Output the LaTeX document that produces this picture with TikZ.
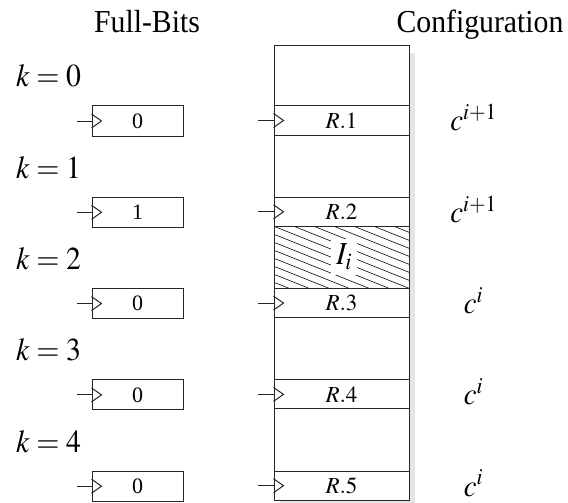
\documentclass[tikz,border=0pt]{standalone}
\usepackage{mathptmx}
\usepackage{fontspec}
\setmainfont{Liberation Serif}
\usetikzlibrary{calc}

\begin{document}
\begin{tikzpicture}[x=1pt, y=-1pt,
    fbbox/.style={draw=black!85, line width=1pt, minimum width=91pt, minimum height=30pt, inner sep=0pt, font=\fontsize{22}{24}\selectfont},
    regbox/.style={draw=black!85, line width=1pt, minimum width=135pt, minimum height=29pt, inner sep=0pt, font=\fontsize{23}{26}\selectfont},
    clk/.style={black!85, line width=1pt},
    title/.style={anchor=base, inner sep=0pt, xscale=0.93, font=\fontsize{32}{36}\selectfont},
    klabel/.style={anchor=base, inner sep=0pt, xscale=0.93, font=\fontsize{32}{36}\selectfont},
    clabel/.style={anchor=base, inner sep=0pt, xscale=0.93, font=\fontsize{31}{36}\selectfont}]

    \useasboundingbox (0,0) rectangle (568,503);

    % --- PARAMETERS ---
    \def\top{106} \def\gap{91.3}
    \def\colL{274} \def\colR{409}

    % --- TITLES ---
    \node[title] (tfull) at (147,33) {Full-Bits};
    \node[title] (tconf) at (480,33) {Configuration};

    % --- MEMORY COLUMN (RIGHT) ---
    \fill[black!10] (\colL+6,53) rectangle (\colR+6,503);
    \filldraw[fill=white, draw=black!85, line width=1pt] (\colL,46) rectangle (\colR,500);

    % hatched block between R.2 and R.3
    \begin{scope}
        \clip (\colL,\top+\gap+29) rectangle (\colR,\top+2*\gap);
        \foreach \y in {-72,-64,...,130}
            \draw[black!85, line width=0.7pt] (\colL,\top+\gap+29+\y) -- ++(135,54);
    \end{scope}
    \node[fill=white, inner sep=5pt, xscale=0.93, font=\fontsize{32}{36}\selectfont] (Ii) at (344,257) {$I_i$};

    % --- ROWS ---
    \foreach \i/\bit/\cfg in {1/0/{c^{i+1}}, 2/1/{c^{i+1}}, 3/0/{c^{i}}, 4/0/{c^{i}}, 5/0/{c^{i}}}{
        \pgfmathsetmacro{\rowY}{\top+(\i-1)*\gap}
        \pgfmathtruncatemacro{\k}{\i-1}

        % left: full bits
        \node[klabel] (k\i) at (48.5,\rowY-19) {$k=\k$};
        \node[fbbox] (fb\i) at (137.5,\rowY+15) {\bit};
        \coordinate (fbin\i) at ($(fb\i.west)+(-15,0)$);
        \draw[clk] (fbin\i) -- (fb\i.west);
        \draw[clk] ($(fb\i.west)+(0,-7)$) -- ++(10,7) -- ++(-10,7);

        % right: registers
        \node[regbox] (r\i) at (341.5,\rowY+14.5) {$R.\i$};
        \coordinate (rin\i) at ($(r\i.west)+(-16,0)$);
        \draw[clk] (rin\i) -- (r\i.west);
        \draw[clk] ($(r\i.west)+(0,-7)$) -- ++(10,7) -- ++(-10,7);

        \node[clabel] (c\i) at (473.5,\rowY+25) {$\cfg$};
    }

\end{tikzpicture}
\end{document}
